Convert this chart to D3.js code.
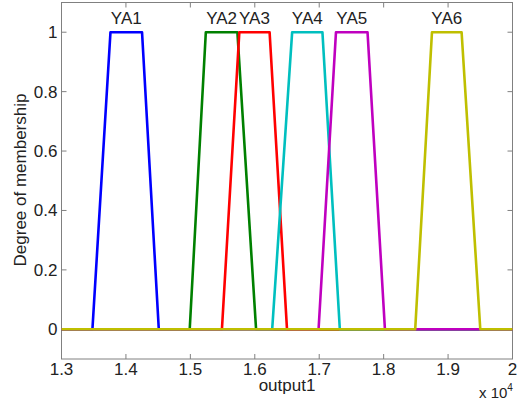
<!DOCTYPE html>
<html><head><meta charset="utf-8">
<script src="https://cdn.jsdelivr.net/npm/d3@7"></script>
<style>
html,body{margin:0;padding:0;background:#fff;}
svg{display:block;font-family:Arial,"Liberation Sans",sans-serif;}
</style></head>
<body><svg id="c" width="523" height="408"></svg>
<script>
const mfNames = ["YA1","YA2","YA3","YA4","YA5","YA6"];
// trapezoid parameters [a, b, c, d]
const mfParams = [
  [13480, 13760, 14250, 14510],
  [14990, 15240, 15730, 16020],
  [15490, 15760, 16230, 16500],
  [16270, 16580, 17050, 17320],
  [16990, 17260, 17750, 18020],
  [18490, 18750, 19210, 19500]
];
const mfColors = ["#0000ff","#008000","#ff0000","#00bfbf","#bf00bf","#bfbf00"];
const xTicks = [13000,14000,15000,16000,17000,18000,19000,20000];
const xTickLabels = ["1.3","1.4","1.5","1.6","1.7","1.8","1.9","2"];
const yTicks = [0,0.2,0.4,0.6,0.8,1];
const yTickLabels = ["0","0.2","0.4","0.6","0.8","1"];

const svg = d3.select("#c");
const L = 61.5, R = 512.5, T = 2.5, B = 359;
const x = d3.scaleLinear().domain([13000,20000]).range([L,R]);
const y = d3.scaleLinear().domain([-0.1,1.1]).range([B,T]);
const axisCol = "#808080", txtCol = "#222";
const fs = 17;

// box
svg.append("rect").attr("x",L).attr("y",T).attr("width",R-L).attr("height",B-T)
  .attr("fill","none").attr("stroke",axisCol).attr("stroke-width",1);

// ticks (inward on all sides)
const tl = 5;
xTicks.forEach((t,i)=>{
  const px = x(t);
  svg.append("line").attr("x1",px).attr("x2",px).attr("y1",B).attr("y2",B-tl).attr("stroke",axisCol);
  svg.append("line").attr("x1",px).attr("x2",px).attr("y1",T).attr("y2",T+tl).attr("stroke",axisCol);
  svg.append("text").attr("x",px).attr("y",375).attr("text-anchor","middle")
    .attr("font-size",fs).attr("fill",txtCol).text(xTickLabels[i]);
});
yTicks.forEach((t,i)=>{
  const py = y(t);
  svg.append("line").attr("x1",L).attr("x2",L+tl).attr("y1",py).attr("y2",py).attr("stroke",axisCol);
  svg.append("line").attr("x1",R).attr("x2",R-tl).attr("y1",py).attr("y2",py).attr("stroke",axisCol);
  svg.append("text").attr("x",L-4).attr("y",py+6).attr("text-anchor","end")
    .attr("font-size",fs).attr("fill",txtCol).text(yTickLabels[i]);
});

// curves
const line = d3.line().x(d=>x(d[0])).y(d=>y(d[1]));
mfParams.forEach((p,i)=>{
  const pts = [[13000,0],[p[0],0],[p[1],1],[p[2],1],[p[3],0],[20000,0]];
  svg.append("path").attr("d",line(pts)).attr("fill","none")
    .attr("stroke",mfColors[i]).attr("stroke-width",2.6).attr("stroke-linejoin","round");
});

// mf labels
mfParams.forEach((p,i)=>{
  svg.append("text").attr("x",x((p[1]+p[2])/2)).attr("y",24).attr("text-anchor","middle")
    .attr("font-size",fs).attr("fill",txtCol).text(mfNames[i]);
});

// axis labels
svg.append("text").attr("x",x(16500)).attr("y",391).attr("text-anchor","middle")
  .attr("font-size",fs).attr("fill",txtCol).text("output1");
svg.append("text").attr("transform","translate(26,180) rotate(-90)")
  .attr("text-anchor","middle").attr("font-size",fs).attr("fill",txtCol).text("Degree of membership");
const ex = svg.append("text").attr("x",479).attr("y",398).attr("font-size",15).attr("fill",txtCol);
ex.append("tspan").text("x 10");
ex.append("tspan").attr("dy",-7).attr("font-size",10).text("4");
</script></body></html>
